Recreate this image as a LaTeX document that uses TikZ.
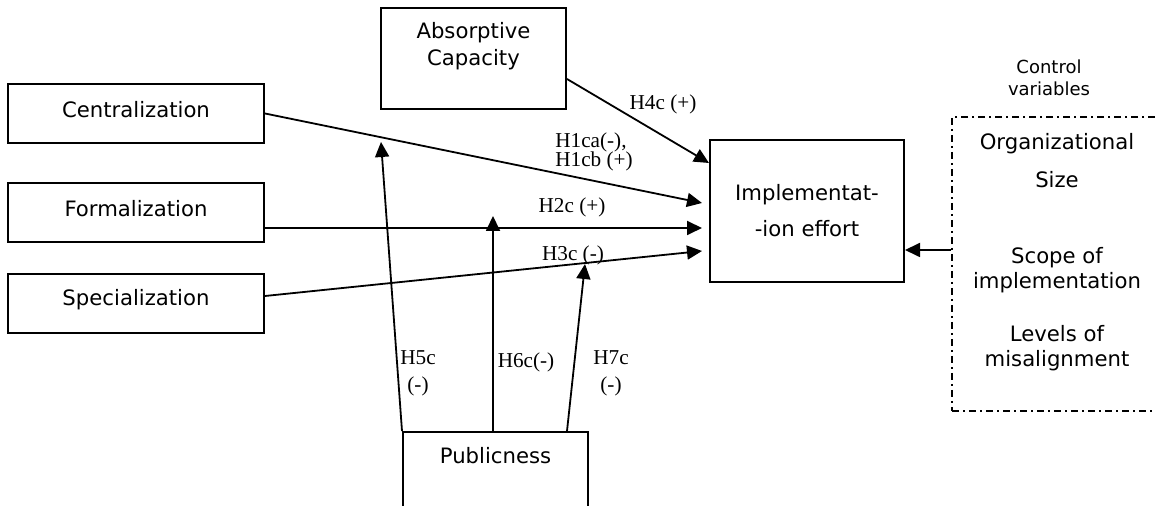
\documentclass[tikz,border=0pt]{standalone}
\usepackage{fontspec}
\setmainfont{DejaVu Sans}
\newfontfamily\hypfont{Liberation Serif}
\usetikzlibrary{arrows.meta}

\begin{document}
\begin{tikzpicture}[
    x=0.5pt, y=-0.5pt,
    every node/.style={font=\fontsize{10.6}{13.5}\selectfont},
    var/.style={draw, line width=1pt, inner sep=0pt},
    ctl/.style={draw, line width=0.8pt,
      dash pattern=on 3.5pt off 2pt on 1pt off 2pt, inner sep=0pt},
    hyp/.style={font=\hypfont\fontsize{10.6}{13.5}\selectfont,
      inner sep=0pt, align=center},
    eff/.style={draw, line width=0.9pt,
      -{Triangle[length=7.5pt, width=7pt]}},
  ]
  \clip (0,0) rectangle (1156,506);

  % organizational variables
  \node[var, minimum width=128pt, minimum height=29.5pt,
    label={[yshift=2pt]center:Centralization}] (cent) at (136,113.5) {};
  \node[var, minimum width=128pt, minimum height=29.5pt,
    label={[yshift=2pt]center:Formalization}] (form) at (136,212.5) {};
  \node[var, minimum width=128pt, minimum height=29.5pt,
    label={[yshift=2pt]center:Specialization}] (spec) at (136,303.5) {};
  \node[var, minimum width=92.5pt, minimum height=50.5pt,
    label={[yshift=6pt, align=center]center:Absorptive\\Capacity}] (absorb) at (473.5,58.5) {};
  \node[var, minimum width=97pt, minimum height=71pt, align=center,
    font=\fontsize{10.6}{18}\selectfont] (impl) at (807,211) {Implementat-\\-ion effort};
  \node[var, minimum width=92.5pt, minimum height=50pt,
    label={[yshift=13pt]center:Publicness}] (pub) at (495.5,482) {};

  % control variables
  \node[ctl, minimum width=109pt, minimum height=147pt] (ctrl) at (1061,264) {};
  \node[font=\fontsize{9}{11}\selectfont, align=center] (ctrlcap) at (1049,78) {Control\\variables};
  \node[align=center, font=\fontsize{10.6}{19}\selectfont] (orgsize) at (1057,161) {Organizational\\Size};
  \node[align=center, font=\fontsize{10.6}{12.5}\selectfont] (scope) at (1057,270) {Scope of\\implementation};
  \node[align=center, font=\fontsize{10.6}{12.5}\selectfont] (levels) at (1057,348) {Levels of\\misalignment};

  % moderated paths end on the main lines
  \coordinate (h5tip) at (381,142);
  \coordinate (h6tip) at (493,216);
  \coordinate (h7tip) at (585,264);

  \draw[eff] ([yshift=-10.25pt]absorb.east) -- ([yshift=-12pt]impl.north west);
  \draw[eff] (cent.east) -- ([xshift=-3.5pt, yshift=4pt]impl.west);
  \draw[eff] ([yshift=-7.75pt]form.east) -- ([xshift=-3.5pt, yshift=-8.5pt]impl.west);
  \draw[eff] ([yshift=3.75pt]spec.east) -- ([xshift=-3.5pt, yshift=-20pt]impl.west);
  \draw[eff] ([yshift=7pt]ctrl.west) -- ([yshift=-19.5pt]impl.east);

  \draw[eff] (pub.north west) -- (h5tip);
  \draw[eff] (pub.north -| h6tip) -- (h6tip);
  \draw[eff] ([xshift=-11pt]pub.north east) -- (h7tip);

  % hypotheses
  \node[hyp] (h4) at (663,104) {H4c (+)};
  \node[hyp, align=left, font=\hypfont\fontsize{10.6}{9.8}\selectfont] (h1) at (594,152) {H1ca(-),\\H1cb (+)};
  \node[hyp] (h2) at (572,207) {H2c (+)};
  \node[hyp] (h3) at (573,255) {H3c (-)};
  \node[hyp] (h5) at (418,373) {H5c\\(-)};
  \node[hyp] (h6) at (526,362) {H6c(-)};
  \node[hyp] (h7) at (611,373) {H7c\\(-)};
\end{tikzpicture}
\end{document}
